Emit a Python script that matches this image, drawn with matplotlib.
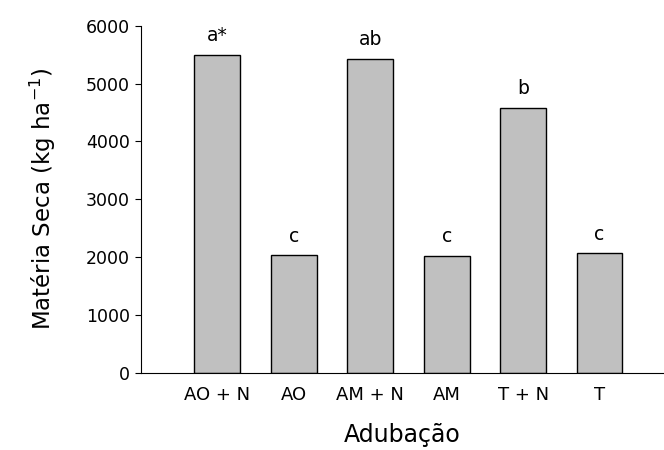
import matplotlib
matplotlib.use("Agg")
import matplotlib.pyplot as plt

plt.rcParams["font.family"] = ["DejaVu Sans"]
plt.rcParams["mathtext.fontset"] = "dejavusans"

treatments = ["AO + N", "AO", "AM + N", "AM", "T + N", "T"]
dry_matter = [5500, 2030, 5430, 2025, 4580, 2065]
letters = ["a*", "c", "ab", "c", "b", "c"]

fig = plt.figure(figsize=(6.64, 4.5), dpi=100)
ax = fig.add_axes([0.2123, 0.1711, 0.7862, 0.7718])

pos = list(range(1, len(treatments) + 1))
ax.bar(pos, dry_matter, width=0.6, color="#c0c0c0", edgecolor="black", linewidth=1)

for x, v, l in zip(pos, dry_matter, letters):
    ax.annotate(l, (x, v), xytext=(0, 7), textcoords="offset points",
                ha="center", va="bottom", fontsize=13.5)

ax.set_xlim(0, 6.83)
ax.set_ylim(0, 6000)
ax.set_yticks(range(0, 6001, 1000))
ax.set_xticks(pos)
ax.set_xticklabels(treatments)
ax.tick_params(axis="x", length=0, pad=9, labelsize=13)
ax.tick_params(axis="y", length=4, pad=4, labelsize=12.5)
ax.spines["top"].set_visible(False)
ax.spines["right"].set_visible(False)

ax.set_xlabel("Adubação", fontsize=17, labelpad=14)
ax.set_ylabel("Matéria Seca (kg ha$^{-1}$)", fontsize=16.5, labelpad=20)

fig.savefig("out.png", dpi=100)
